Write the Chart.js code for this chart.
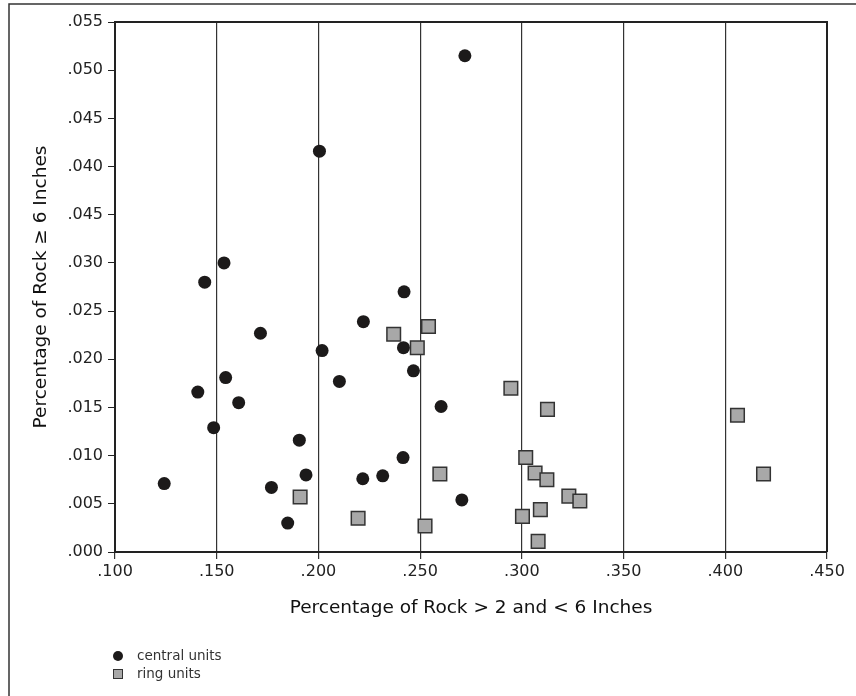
<!DOCTYPE html>
<html>
<head>
<meta charset="utf-8">
<script src="https://cdn.jsdelivr.net/npm/chart.js@4"></script>
<style>
  html, body { margin: 0; padding: 0; background: #fff; }
  #wrap { width: 856px; height: 696px; position: relative; }
</style>
</head>
<body>
<div id="wrap"><canvas id="rockChart" width="856" height="696"></canvas></div>
<script>
// central units (circles)
const centralX = [0.272, 0.2005, 0.1536, 0.1441, 0.2421, 0.2221, 0.1715, 0.2018, 0.2418, 0.2467, 0.2103, 0.1544, 0.1407,
  0.1608, 0.2603, 0.1485, 0.1906, 0.2416, 0.1939, 0.2316, 0.2218, 0.1242, 0.1769, 0.2705, 0.1849];
const centralY = [0.0515, 0.0416, 0.0300, 0.0280, 0.0270, 0.0239, 0.0227, 0.0209, 0.0212, 0.0188, 0.0177, 0.0181, 0.0166,
  0.0155, 0.0151, 0.0129, 0.0116, 0.0098, 0.0080, 0.0079, 0.0076, 0.0071, 0.0067, 0.0054, 0.0030];

// ring units (squares)
const ringX = [0.2370, 0.2541, 0.2486, 0.2597, 0.1910, 0.2195, 0.2524, 0.2946, 0.3126, 0.4060, 0.3019, 0.4188, 0.3065,
  0.3123, 0.3231, 0.3285, 0.3091, 0.3003, 0.3080];
const ringY = [0.0226, 0.0234, 0.0212, 0.0081, 0.0057, 0.0035, 0.0027, 0.0170, 0.0148, 0.0142, 0.0098, 0.0081, 0.0082,
  0.0075, 0.0058, 0.0053, 0.0044, 0.0037, 0.0011];

// tick labels as printed (note the repeated .045)
const xTickLabels = ['.100', '.150', '.200', '.250', '.300', '.350', '.400', '.450'];
const yTickLabels = ['.000', '.005', '.010', '.015', '.020', '.025', '.030', '.045', '.040', '.045', '.050', '.055'];

const seriesNames = ['central units', 'ring units'];

const FONT = "'DejaVu Sans', sans-serif";
const toPoints = (xs, ys) => xs.map((x, i) => ({ x: x, y: ys[i] }));

// frame lines, plot border and the stacked legend
const decorations = {
  id: 'decorations',
  beforeDraw(chart) {
    const ctx = chart.ctx;
    ctx.save();
    ctx.strokeStyle = '#333';
    ctx.lineWidth = 1.5;
    ctx.beginPath();
    ctx.moveTo(856, 4);
    ctx.lineTo(9, 4);
    ctx.lineTo(9, 696);
    ctx.stroke();
    ctx.restore();
  },
  afterDraw(chart) {
    const ctx = chart.ctx;
    const a = chart.chartArea;
    ctx.save();
    ctx.strokeStyle = '#222';
    ctx.lineWidth = 2;
    ctx.beginPath();
    ctx.moveTo(a.left, a.top);
    ctx.lineTo(a.right, a.top);
    ctx.lineTo(a.right, a.bottom);
    ctx.stroke();

    // legend
    const ds = chart.data.datasets;
    ctx.font = '13.5px ' + FONT;
    ctx.textBaseline = 'middle';
    ctx.fillStyle = ds[0].backgroundColor;
    ctx.beginPath();
    ctx.arc(118, 656, 5, 0, Math.PI * 2);
    ctx.fill();
    ctx.fillStyle = ds[1].backgroundColor;
    ctx.strokeStyle = ds[1].borderColor;
    ctx.lineWidth = 1;
    ctx.fillRect(113, 669, 10, 10);
    ctx.strokeRect(113.5, 669.5, 9, 9);
    ctx.fillStyle = '#333';
    ctx.fillText(seriesNames[0], 137, 656);
    ctx.fillText(seriesNames[1], 137, 674);
    ctx.restore();
  }
};

new Chart(document.getElementById('rockChart'), {
  type: 'scatter',
  data: {
    datasets: [
      {
        label: seriesNames[0],
        data: toPoints(centralX, centralY),
        backgroundColor: '#1c1a1a',
        borderColor: '#1c1a1a',
        pointStyle: 'circle',
        pointRadius: 6.5,
        borderWidth: 0,
        order: 1
      },
      {
        label: seriesNames[1],
        data: toPoints(ringX, ringY),
        backgroundColor: '#a8a8a8',
        borderColor: '#333',
        pointStyle: 'rect',
        pointRadius: 9.6,
        borderWidth: 1.5,
        order: 0
      }
    ]
  },
  options: {
    responsive: false,
    animation: false,
    events: [],
    layout: { padding: { left: 30, top: 22, right: 29, bottom: 76 } },
    plugins: {
      legend: { display: false },
      tooltip: { enabled: false }
    },
    scales: {
      x: {
        type: 'linear',
        min: 0.1,
        max: 0.45,
        afterFit(scale) { scale.height = 68; },
        afterBuildTicks(scale) {
          scale.ticks = xTickLabels.map((t, i) => ({ value: 0.1 + i * 0.05 }));
        },
        ticks: {
          autoSkip: false,
          maxRotation: 0,
          padding: 3,
          color: '#222',
          font: { family: FONT, size: 16 },
          callback: (v, i) => xTickLabels[i]
        },
        grid: { color: '#333', lineWidth: 1.2, drawTicks: true, tickLength: 7 },
        border: { color: '#222', width: 2 },
        title: {
          display: true,
          text: 'Percentage of Rock > 2 and < 6 Inches',
          color: '#111',
          font: { family: FONT, size: 18.5 },
          padding: { top: 0, bottom: 1 }
        }
      },
      y: {
        type: 'linear',
        min: 0,
        max: 0.055,
        afterFit(scale) { scale.width = 85; },
        afterBuildTicks(scale) {
          scale.ticks = yTickLabels.map((t, i) => ({ value: i * 0.005 }));
        },
        ticks: {
          autoSkip: false,
          padding: 5,
          color: '#222',
          font: { family: FONT, size: 16 },
          callback: (v, i) => yTickLabels[i]
        },
        grid: { drawOnChartArea: false, color: '#222', drawTicks: true, tickLength: 7 },
        border: { color: '#222', width: 2 },
        title: {
          display: true,
          text: 'Percentage of Rock \u2265 6 Inches',
          color: '#111',
          font: { family: FONT, size: 18.5 },
          padding: { top: 0, bottom: 0 }
        }
      }
    }
  },
  plugins: [decorations]
});
</script>
</body>
</html>
